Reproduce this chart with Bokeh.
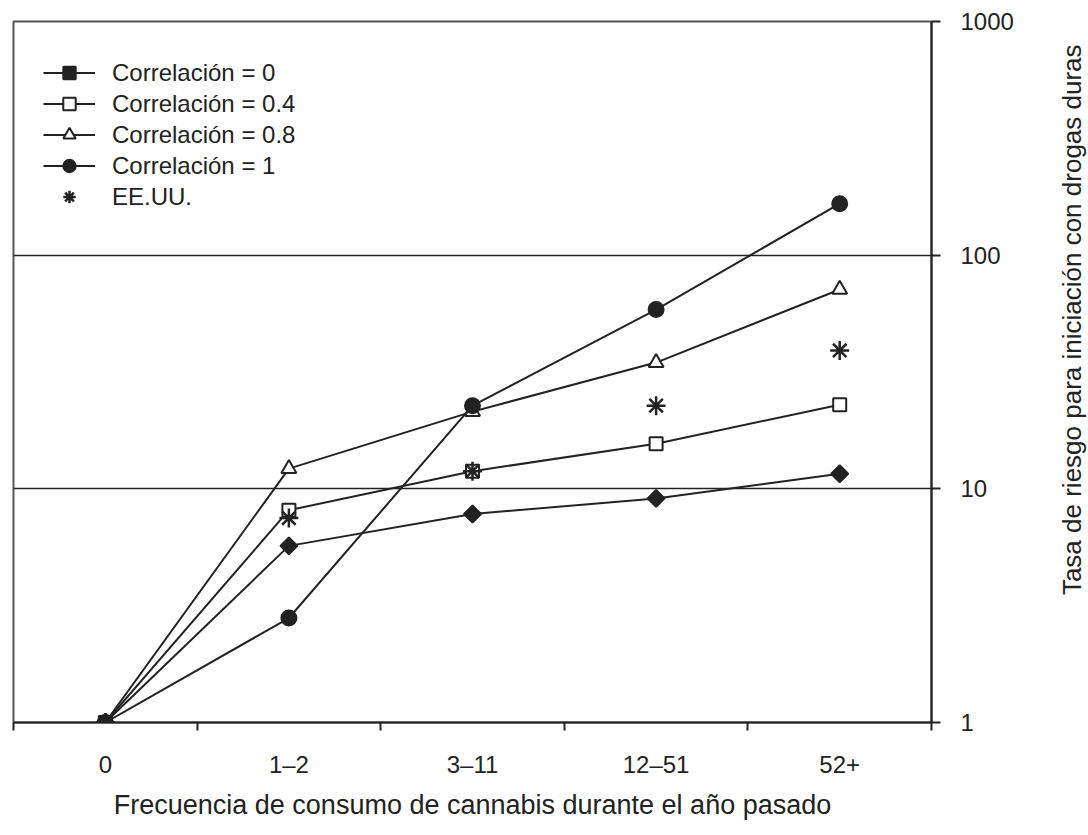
import math
from bokeh.plotting import figure
from bokeh.layouts import row
from bokeh.models import Range1d, FixedTicker, Legend
from bokeh.core.properties import value
from bokeh.embed import file_html
from bokeh.resources import INLINE

categories = ["0", "1–2", "3–11", "12–51", "52+"]
corr_0 = [1, 5.7, 7.8, 9.1, 11.6]
corr_04 = [1, 8.1, 11.9, 15.6, 22.9]
corr_08 = [1, 12.2, 21.4, 34.7, 71.3]
corr_1 = [1, 2.8, 22.7, 58.5, 166]
eeuu = [1, 7.5, 11.9, 22.7, 39.1]

y_ticks = [1, 10, 100, 1000]
y_tick_labels = ["1", "10", "100", "1000"]

x_label = "Frecuencia de consumo de cannabis durante el año pasado"
y_label = "Tasa de riesgo para iniciación con drogas duras"
legend_labels = ["Correlación = 0", "Correlación = 0.4", "Correlación = 0.8",
                 "Correlación = 1", "EE.UU."]

FONT = "Liberation Sans"
INK = "#222222"

xs = [i + 0.5 for i in range(len(categories))]

p = figure(width=1048, height=832, output_backend="svg", toolbar_location=None,
           y_axis_type="log", y_axis_location="right",
           x_range=Range1d(0, len(categories)), y_range=Range1d(1, 1000),
           min_border_left=13, min_border_top=21, min_border_right=117,
           min_border_bottom=110)
p.outline_line_color = "#555555"
p.outline_line_width = 2
p.background_fill_color = "white"
p.xgrid.grid_line_color = None
p.ygrid.grid_line_color = INK
p.ygrid.grid_line_width = 1.5

# x axis
xa = p.xaxis[0]
xa.ticker = FixedTicker(ticks=xs, minor_ticks=list(range(len(categories) + 1)))
xa.major_label_overrides = {x: c for x, c in zip(xs, categories)}
xa.major_tick_line_color = None
xa.major_tick_out = 0
xa.minor_tick_in = 0
xa.minor_tick_out = 8
xa.minor_tick_line_width = 2
xa.minor_tick_line_color = INK
xa.axis_line_width = 2
xa.axis_line_color = INK
xa.major_label_text_font = FONT
xa.major_label_text_font_size = "24px"
xa.major_label_text_color = INK
xa.major_label_standoff = 20
xa.axis_label = x_label
xa.axis_label_text_font = FONT
xa.axis_label_text_font_size = "27px"
xa.axis_label_text_font_style = "normal"
xa.axis_label_text_color = INK
xa.axis_label_standoff = 9

# y axis (right)
ya = p.yaxis[0]
ya.ticker = FixedTicker(ticks=y_ticks)
ya.major_label_overrides = {t: l for t, l in zip(y_ticks, y_tick_labels)}
ya.minor_tick_line_color = None
ya.major_tick_in = 0
ya.major_tick_out = 9
ya.major_tick_line_width = 2
ya.major_tick_line_color = INK
ya.axis_line_width = 2
ya.axis_line_color = INK
ya.major_label_text_font = FONT
ya.major_label_text_font_size = "24px"
ya.major_label_text_color = INK
ya.major_label_standoff = 20

series = [
    (corr_0, "square", INK, 12, math.pi / 4),
    (corr_04, "square", "white", 13, 0),
    (corr_08, "triangle", "white", 15, 0),
    (corr_1, "circle", INK, 15, 0),
]
items = []
for (vals, marker, fill, size, ang), lab in zip(series, legend_labels[:4]):
    r1 = p.line(xs, vals, line_color=INK, line_width=2)
    r2 = p.scatter(xs, vals, marker=marker, size=size, angle=ang, fill_color=fill,
                   line_color=INK, line_width=2)
    items.append((lab, [r1, r2]))
r5 = p.scatter(xs, eeuu, marker="asterisk", size=19, line_color=INK, line_width=2.5)
items.append((legend_labels[4], [r5]))

legend = Legend(items=items, location=(30, 510), orientation="vertical",
                glyph_width=52, glyph_height=31, label_height=31, spacing=0,
                label_standoff=17, padding=0, margin=0,
                background_fill_alpha=0, border_line_color=None,
                label_text_font=FONT, label_text_font_size="24px",
                label_text_color=INK)
p.add_layout(legend)

# narrow strip on the right holding the vertical axis title (reads bottom-to-top)
p2 = figure(width=40, height=832, output_backend="svg", toolbar_location=None,
            x_range=Range1d(0, 40), y_range=Range1d(0, 832),
            x_axis_location=None, y_axis_location=None, min_border=0)
p2.outline_line_color = None
p2.grid.grid_line_color = None
p2.text(x=[23], y=[478], text=[y_label], angle=math.pi / 2,
        text_align="center", text_baseline="middle",
        text_font=value(FONT), text_font_size=value("26px"), text_color=INK)

layout = row(p, p2)
open("out.html", "w").write(file_html(layout, INLINE))
